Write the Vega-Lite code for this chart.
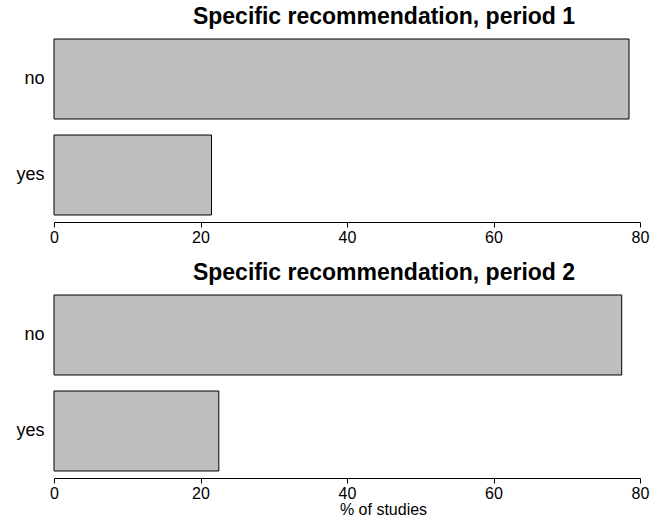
{
  "$schema": "https://vega.github.io/schema/vega-lite/v6.json",
  "background": "white",
  "padding": {"left": 15, "top": 6, "right": 5, "bottom": 0},
  "spacing": 17,
  "config": {
    "view": {"stroke": null},
    "font": "Liberation Sans",
    "axis": {"domainColor": "black", "tickColor": "black", "labelColor": "black", "titleColor": "black", "grid": false},
    "title": {"color": "black"}
  },
  "vconcat": [
    {
      "width": 586,
      "height": 184,
      "title": {"text": "Specific recommendation, period 1", "fontSize": 23, "fontWeight": "bold", "dx": 37, "offset": 6},
      "data": {"values": [{"answer": "no", "pct": 78.5}, {"answer": "yes", "pct": 21.5}]},
      "mark": {"type": "bar", "fill": "#bebebe", "stroke": "black", "strokeWidth": 1},
      "encoding": {
        "y": {"field": "answer", "type": "nominal", "sort": ["no", "yes"],
              "scale": {"paddingInner": 0.1667, "paddingOuter": 0.0417},
              "axis": {"title": null, "ticks": false, "domain": false, "labelFontSize": 18, "labelPadding": 10}},
        "x": {"field": "pct", "type": "quantitative",
              "scale": {"domain": [0, 80], "nice": false},
              "axis": {"values": [0, 20, 40, 60, 80], "title": null, "offset": 3, "labelFontSize": 16, "tickSize": 5, "labelFlush": false, "labelPadding": 2}}
      }
    },
    {
      "width": 586,
      "height": 184,
      "title": {"text": "Specific recommendation, period 2", "fontSize": 23, "fontWeight": "bold", "dx": 37, "offset": 6},
      "data": {"values": [{"answer": "no", "pct": 77.5}, {"answer": "yes", "pct": 22.5}]},
      "mark": {"type": "bar", "fill": "#bebebe", "stroke": "black", "strokeWidth": 1},
      "encoding": {
        "y": {"field": "answer", "type": "nominal", "sort": ["no", "yes"],
              "scale": {"paddingInner": 0.1667, "paddingOuter": 0.0417},
              "axis": {"title": null, "ticks": false, "domain": false, "labelFontSize": 18, "labelPadding": 10}},
        "x": {"field": "pct", "type": "quantitative",
              "scale": {"domain": [0, 80], "nice": false},
              "axis": {"values": [0, 20, 40, 60, 80], "title": "% of studies", "titleFontSize": 16, "titleFontWeight": "normal", "titleX": 329, "titlePadding": 0, "offset": 3, "labelFontSize": 16, "tickSize": 5, "labelFlush": false, "labelPadding": 2}}
      }
    }
  ]
}
